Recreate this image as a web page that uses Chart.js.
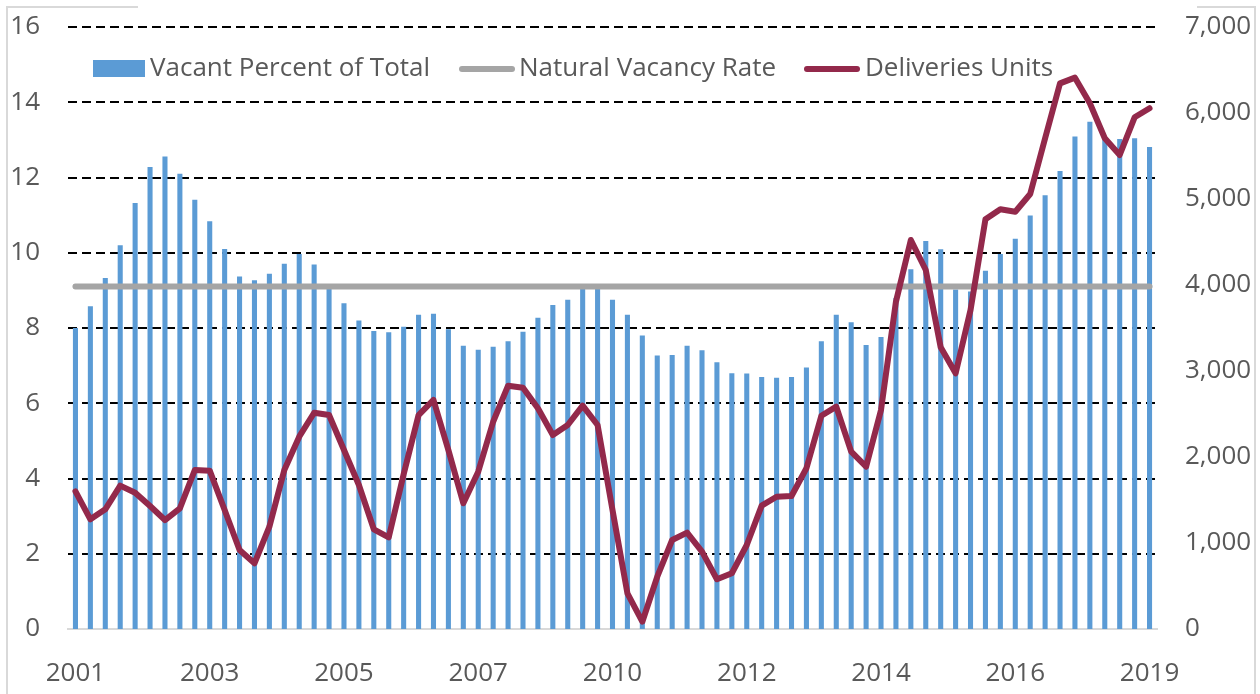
<!DOCTYPE html>
<html>
<head>
<meta charset="utf-8">
<script src="https://cdn.jsdelivr.net/npm/chart.js@4/dist/chart.umd.min.js"></script>
<style>
  html, body { margin: 0; padding: 0; background: #fff; }
  #wrap { width: 1260px; height: 694px; position: relative; }
</style>
</head>
<body>
<div id="wrap"><canvas id="c" width="1260" height="694"></canvas></div>
<script>
// ---- Data (quarterly, 2001 Q1 .. 2019 Q1) ----
const categories = [
  "2001 Q1","2001 Q2","2001 Q3","2001 Q4",
  "2002 Q1","2002 Q2","2002 Q3","2002 Q4",
  "2003 Q1","2003 Q2","2003 Q3","2003 Q4",
  "2004 Q1","2004 Q2","2004 Q3","2004 Q4",
  "2005 Q1","2005 Q2","2005 Q3","2005 Q4",
  "2006 Q1","2006 Q2","2006 Q3","2006 Q4",
  "2007 Q1","2007 Q2","2007 Q3","2007 Q4",
  "2008 Q1","2008 Q2","2008 Q3","2008 Q4",
  "2009 Q1","2009 Q2","2009 Q3","2009 Q4",
  "2010 Q1","2010 Q2","2010 Q3","2010 Q4",
  "2011 Q1","2011 Q2","2011 Q3","2011 Q4",
  "2012 Q1","2012 Q2","2012 Q3","2012 Q4",
  "2013 Q1","2013 Q2","2013 Q3","2013 Q4",
  "2014 Q1","2014 Q2","2014 Q3","2014 Q4",
  "2015 Q1","2015 Q2","2015 Q3","2015 Q4",
  "2016 Q1","2016 Q2","2016 Q3","2016 Q4",
  "2017 Q1","2017 Q2","2017 Q3","2017 Q4",
  "2018 Q1","2018 Q2","2018 Q3","2018 Q4",
  "2019 Q1"
];

// Tick labels shown on the category axis (every 9th quarter)
const xTickLabels = ["2001","2003","2005","2007","2010","2012","2014","2016","2019"];
const xTickEvery = 9;

// Vacant Percent of Total (left axis, %)
const vacantPercent = [
  8.00, 8.58, 9.33, 10.20, 11.32, 12.28, 12.56, 12.10,
  11.41, 10.84, 10.10, 9.37, 9.27, 9.44, 9.71, 9.97,
  9.69, 9.05, 8.66, 8.20, 7.92, 7.89, 8.03, 8.35,
  8.38, 7.97, 7.53, 7.42, 7.50, 7.65, 7.90, 8.27,
  8.61, 8.75, 9.08, 9.08, 8.75, 8.35, 7.80, 7.27,
  7.28, 7.53, 7.41, 7.09, 6.80, 6.79, 6.70, 6.68,
  6.70, 6.95, 7.65, 8.35, 8.15, 7.55, 7.76, 8.80,
  9.56, 10.31, 10.09, 9.02, 8.97, 9.52, 9.97, 10.37,
  10.99, 11.53, 12.17, 13.09, 13.48, 13.00, 13.02, 13.04,
  12.81
];

// Natural Vacancy Rate (left axis, %), constant
const naturalVacancyRate = 9.1;

// Deliveries Units (right axis)
const deliveriesUnits = [
  1600, 1275, 1392, 1667, 1585, 1430, 1267, 1403,
  1849, 1841, 1384, 919, 764, 1190, 1849, 2236,
  2515, 2488, 2081, 1674, 1159, 1066, 1800, 2488,
  2663, 2081, 1462, 1829, 2410, 2829, 2806, 2566,
  2256, 2372, 2597, 2372, 1384, 415, 85, 608,
  1035, 1120, 899, 578, 648, 977, 1434, 1538,
  1547, 1869, 2480, 2585, 2062, 1887, 2547, 3806,
  4523, 4174, 3275, 2973, 3709, 4764, 4880, 4852,
  5058, 5706, 6345, 6411, 6113, 5706, 5512, 5950,
  6055
];

// ---- Styles ----
const FONT = "'Open Sans', 'DejaVu Sans', sans-serif";
const FSIZE = 26;
const TEXT = '#595959';
const BLUE = '#5B9BD5';
const GREY = '#A5A5A5';
const RED = '#93294B';

const borderPlugin = {
  id: 'outerBorder',
  beforeDraw(chart) {
    const ctx = chart.ctx;
    ctx.save();
    ctx.fillStyle = '#fff';
    ctx.fillRect(0, 0, chart.width, chart.height);
    ctx.strokeStyle = '#D9D9D9';
    ctx.lineWidth = 2;
    ctx.beginPath();
    ctx.moveTo(7, 694); ctx.lineTo(7, 7); ctx.lineTo(138, 7);
    ctx.moveTo(1197, 7); ctx.lineTo(1255, 7); ctx.lineTo(1255, 694);
    ctx.stroke();
    ctx.restore();
  }
};

const legendPlugin = {
  id: 'insideLegend',
  afterDraw(chart) {
    const ctx = chart.ctx;
    const y = 69;
    ctx.save();
    ctx.font = `${FSIZE}px ${FONT}`;
    ctx.fillStyle = TEXT;
    ctx.textBaseline = 'middle';
    ctx.textAlign = 'left';
    const ds = chart.data.datasets;
    ctx.fillStyle = ds[0].backgroundColor;
    ctx.fillRect(93, y - 9, 52, 17);
    ctx.fillStyle = TEXT;
    ctx.fillText(ds[0].label, 150, y);
    ctx.lineCap = 'round';
    ctx.lineWidth = 6;
    ctx.strokeStyle = ds[1].borderColor;
    ctx.beginPath(); ctx.moveTo(462, y); ctx.lineTo(512, y); ctx.stroke();
    ctx.fillText(ds[1].label, 519, y);
    ctx.strokeStyle = ds[2].borderColor;
    ctx.beginPath(); ctx.moveTo(807, y); ctx.lineTo(857, y); ctx.stroke();
    ctx.fillText(ds[2].label, 865, y);
    ctx.restore();
  }
};

const noVPad = s => { s.paddingTop = 0; s.paddingBottom = 0; };

new Chart(document.getElementById('c'), {
  data: {
    labels: categories,
    datasets: [
      {
        type: 'bar',
        label: 'Vacant Percent of Total',
        data: vacantPercent,
        backgroundColor: BLUE,
        yAxisID: 'y',
        barPercentage: 0.34,
        categoryPercentage: 1.0,
        order: 3
      },
      {
        type: 'line',
        label: 'Natural Vacancy Rate',
        data: categories.map(() => naturalVacancyRate),
        borderColor: GREY,
        borderWidth: 6,
        borderCapStyle: 'round',
        pointRadius: 0,
        fill: false,
        yAxisID: 'y',
        order: 2
      },
      {
        type: 'line',
        label: 'Deliveries Units',
        data: deliveriesUnits,
        borderColor: RED,
        borderWidth: 6,
        borderCapStyle: 'round',
        borderJoinStyle: 'round',
        tension: 0,
        pointRadius: 0,
        fill: false,
        yAxisID: 'y1',
        order: 1
      }
    ]
  },
  options: {
    responsive: false,
    animation: false,
    layout: { padding: { top: 27, left: 0, right: 0, bottom: 0 } },
    plugins: { legend: { display: false }, tooltip: { enabled: false } },
    scales: {
      x: {
        type: 'category',
        offset: true,
        grid: { display: false, drawTicks: false },
        border: { display: true, color: '#D9D9D9', width: 2 },
        ticks: {
          autoSkip: false,
          maxRotation: 0,
          minRotation: 0,
          padding: 29,
          color: TEXT,
          font: { family: FONT, size: FSIZE },
          callback: (v, i) => (i % xTickEvery === 0 ? xTickLabels[i / xTickEvery] : '')
        },
        afterFit: s => { s.height = 65; }
      },
      y: {
        position: 'left',
        min: 0,
        max: 16,
        ticks: {
          stepSize: 2,
          padding: 28,
          color: TEXT,
          font: { family: FONT, size: FSIZE }
        },
        grid: {
          drawTicks: false,
          color: '#000',
          lineWidth: c => (c.tick && c.tick.value === 0 ? 0 : 2)
        },
        border: { display: false, dash: [9, 5] },
        afterFit: s => { s.width = 68; noVPad(s); }
      },
      y1: {
        position: 'right',
        min: 0,
        max: 7000,
        ticks: {
          stepSize: 1000,
          padding: 28,
          color: TEXT,
          font: { family: FONT, size: FSIZE },
          callback: v => Number(v).toLocaleString('en-US')
        },
        grid: { display: false, drawTicks: false },
        border: { display: false },
        afterFit: s => { s.width = 103; noVPad(s); }
      }
    }
  },
  plugins: [borderPlugin, legendPlugin]
});
</script>
</body>
</html>
